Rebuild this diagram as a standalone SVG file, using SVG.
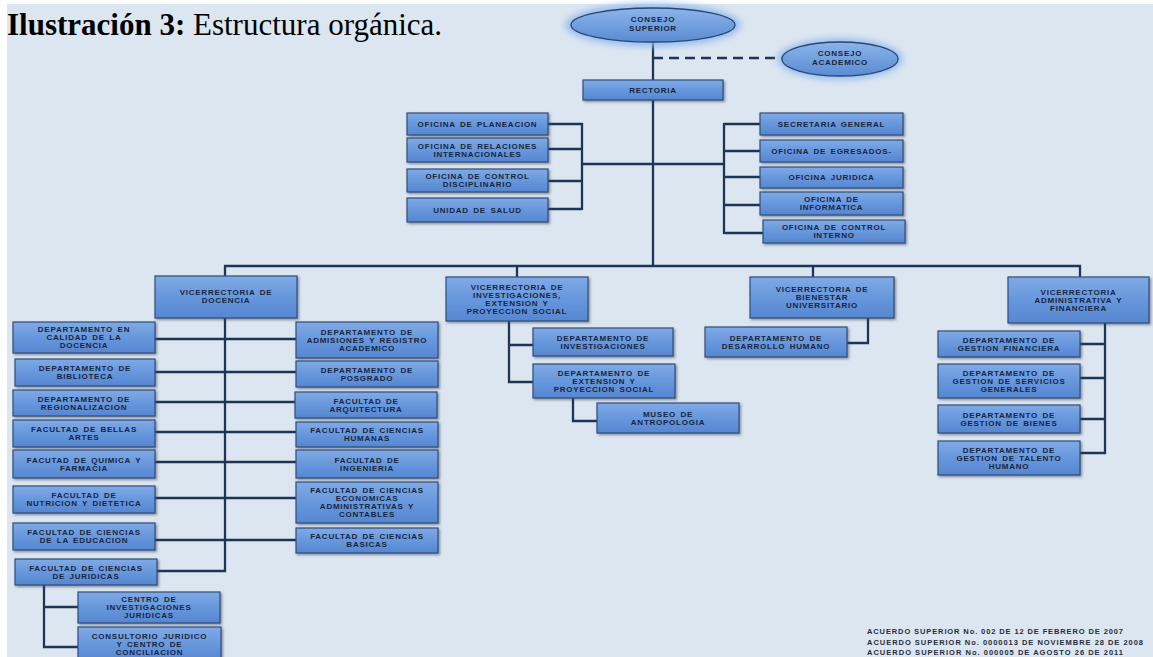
<svg xmlns="http://www.w3.org/2000/svg" width="1153" height="657" viewBox="0 0 1153 657">
<defs>
<style>
.bx{fill:url(#gb);stroke:#2f4d78;stroke-width:1.2;filter:url(#sh)}
.el{fill:url(#ge);stroke:#2a4670;stroke-width:1.3}
.t{font-family:"Liberation Sans",Arial,sans-serif;font-weight:bold;font-size:8px;letter-spacing:0.75px;word-spacing:1.5px;fill:#17263f;text-anchor:middle}
.ln{fill:none;stroke:#1e3556;stroke-width:2.3}
.ds{fill:none;stroke:#1e3556;stroke-width:2.3;stroke-dasharray:10 6}
.ac{font-family:"Liberation Sans",Arial,sans-serif;font-weight:bold;font-size:7.5px;fill:#252d3a}
</style>
<linearGradient id="gb" x1="0" y1="0" x2="0" y2="1">
<stop offset="0" stop-color="#80aae6"/>
<stop offset="0.5" stop-color="#6797dc"/>
<stop offset="1" stop-color="#5686d0"/>
</linearGradient>
<linearGradient id="ge" x1="0" y1="0" x2="0" y2="1">
<stop offset="0" stop-color="#8cb4ea"/>
<stop offset="1" stop-color="#5a8bd2"/>
</linearGradient>
<filter id="sh" x="-10%" y="-20%" width="125%" height="150%">
<feDropShadow dx="1.5" dy="1.5" stdDeviation="1" flood-color="#3a4a60" flood-opacity="0.55"/>
</filter>
<filter id="gl" x="-30%" y="-60%" width="160%" height="220%">
<feGaussianBlur stdDeviation="3"/>
</filter>
</defs>
<rect x="0" y="0" width="1153" height="657" fill="#ffffff"/>
<rect x="7" y="4" width="1146" height="653" fill="#dce6f1"/>
<text x="7" y="35" font-family="'Liberation Serif','Times New Roman',serif" font-size="31" fill="#000"><tspan font-weight="bold">Ilustración 3:</tspan> Estructura orgánica.</text>

<g id="connectors">
<path class="ln" d="M653 42V266"/>
<path class="ds" d="M653 58H782"/>
<path class="ln" d="M548 124H582M548 149H582M548 181H582M548 209H582M582 123V210M582 164H724"/>
<path class="ln" d="M724 123V234M724 124H760M724 151H760M724 177H760M724 205H760M724 233H763"/>
<path class="ln" d="M225 277V266H1080V277M517 266V277M813 266V277"/>
<path class="ln" d="M225 318V571H157"/>
<path class="ln" d="M155 339H296M155 372H296M155 402H296M155 432H296M155 462H296M155 498H296M155 540H296"/>
<path class="ln" d="M44 585V647H78M44 607H78"/>
<path class="ln" d="M509 321V382H533M509 345H533"/>
<path class="ln" d="M573 398V421H597"/>
<path class="ln" d="M868 318V343H847"/>
<path class="ln" d="M1105 323V453H1080M1080 344H1105M1080 378H1105M1080 419H1105"/>
</g>

<g id="consejo-superior">
<ellipse cx="653" cy="25" rx="88" ry="22" fill="#8fb8ee" opacity="0.85" filter="url(#gl)"/>
<ellipse class="el" cx="653" cy="25" rx="82" ry="17"/>
<text class="t"><tspan x="653" y="21.7">CONSEJO</tspan><tspan x="653" y="30.5">SUPERIOR</tspan></text>
</g>
<g id="consejo-academico">
<ellipse cx="840" cy="59" rx="63" ry="21" fill="#8fb8ee" opacity="0.85" filter="url(#gl)"/>
<ellipse class="el" cx="840" cy="59" rx="58" ry="17"/>
<text class="t"><tspan x="840" y="55.7">CONSEJO</tspan><tspan x="840" y="64.7">ACADEMICO</tspan></text>
</g>
<g id="rectoria">
<rect class="bx" x="583" y="80" width="140" height="20"/>
<text class="t"><tspan x="653" y="92.7">RECTORIA</tspan></text>
</g>

<g id="planeacion"><rect class="bx" x="407" y="113" width="141" height="22"/>
<text class="t"><tspan x="477.5" y="126.7">OFICINA DE PLANEACION</tspan></text></g>
<g id="relaciones"><rect class="bx" x="407" y="138" width="141" height="24"/>
<text class="t"><tspan x="477.5" y="148.7">OFICINA DE RELACIONES</tspan><tspan x="477.5" y="156.7">INTERNACIONALES</tspan></text></g>
<g id="control-disciplinario"><rect class="bx" x="407" y="169" width="141" height="23"/>
<text class="t"><tspan x="477.5" y="179.2">OFICINA DE CONTROL</tspan><tspan x="477.5" y="187.2">DISCIPLINARIO</tspan></text></g>
<g id="salud"><rect class="bx" x="407" y="198" width="141" height="24"/>
<text class="t"><tspan x="477.5" y="212.7">UNIDAD DE SALUD</tspan></text></g>

<g id="secretaria"><rect class="bx" x="760" y="113" width="143" height="22"/>
<text class="t"><tspan x="831.5" y="126.7">SECRETARIA GENERAL</tspan></text></g>
<g id="egresados"><rect class="bx" x="760" y="140" width="143" height="22"/>
<text class="t"><tspan x="831.5" y="153.7">OFICINA DE EGRESADOS-</tspan></text></g>
<g id="juridica"><rect class="bx" x="760" y="167" width="143" height="21"/>
<text class="t"><tspan x="831.5" y="180.2">OFICINA JURIDICA</tspan></text></g>
<g id="informatica"><rect class="bx" x="760" y="192" width="143" height="23"/>
<text class="t"><tspan x="831.5" y="202.2">OFICINA DE</tspan><tspan x="831.5" y="210.2">INFORMATICA</tspan></text></g>
<g id="control-interno"><rect class="bx" x="763" y="220" width="142" height="23"/>
<text class="t"><tspan x="834" y="230.2">OFICINA DE CONTROL</tspan><tspan x="834" y="238.2">INTERNO</tspan></text></g>

<g id="vr-docencia"><rect class="bx" x="155" y="276" width="142" height="42"/>
<text class="t"><tspan x="226" y="294.5">VICERRECTORIA DE</tspan><tspan x="226" y="302.5">DOCENCIA</tspan></text></g>
<g id="vr-investigaciones"><rect class="bx" x="446" y="277" width="142" height="44"/>
<text class="t"><tspan x="517" y="289.7">VICERRECTORIA DE</tspan><tspan x="517" y="297.7">INVESTIGACIONES,</tspan><tspan x="517" y="305.7">EXTENSION Y</tspan><tspan x="517" y="313.7">PROYECCION SOCIAL</tspan></text></g>
<g id="vr-bienestar"><rect class="bx" x="750" y="277" width="144" height="41"/>
<text class="t"><tspan x="822" y="292.2">VICERRECTORIA DE</tspan><tspan x="822" y="300.2">BIENESTAR</tspan><tspan x="822" y="308.2">UNIVERSITARIO</tspan></text></g>
<g id="vr-administrativa"><rect class="bx" x="1008" y="277" width="141" height="46"/>
<text class="t"><tspan x="1078.5" y="294.7">VICERRECTORIA</tspan><tspan x="1078.5" y="302.7">ADMINISTRATIVA Y</tspan><tspan x="1078.5" y="310.7">FINANCIERA</tspan></text></g>

<g id="calidad"><rect class="bx" x="13" y="322" width="142" height="31"/>
<text class="t"><tspan x="84" y="332.2">DEPARTAMENTO EN</tspan><tspan x="84" y="340.2">CALIDAD DE LA</tspan><tspan x="84" y="348.2">DOCENCIA</tspan></text></g>
<g id="biblioteca"><rect class="bx" x="15" y="359" width="140" height="27"/>
<text class="t"><tspan x="85" y="371.2">DEPARTAMENTO DE</tspan><tspan x="85" y="379.2">BIBLIOTECA</tspan></text></g>
<g id="regionalizacion"><rect class="bx" x="13" y="390" width="142" height="26"/>
<text class="t"><tspan x="84" y="401.7">DEPARTAMENTO DE</tspan><tspan x="84" y="409.7">REGIONALIZACION</tspan></text></g>
<g id="bellas-artes"><rect class="bx" x="13" y="420" width="142" height="27"/>
<text class="t"><tspan x="84" y="432.2">FACULTAD DE BELLAS</tspan><tspan x="84" y="440.2">ARTES</tspan></text></g>
<g id="quimica"><rect class="bx" x="13" y="450" width="142" height="28"/>
<text class="t"><tspan x="84" y="462.7">FACUTAD DE QUIMICA Y</tspan><tspan x="84" y="470.7">FARMACIA</tspan></text></g>
<g id="nutricion"><rect class="bx" x="13" y="486" width="142" height="27"/>
<text class="t"><tspan x="84" y="498.2">FACULTAD DE</tspan><tspan x="84" y="506.2">NUTRICION Y DIETETICA</tspan></text></g>
<g id="educacion"><rect class="bx" x="13" y="523" width="142" height="27"/>
<text class="t"><tspan x="84" y="535.2">FACULTAD DE CIENCIAS</tspan><tspan x="84" y="543.2">DE LA EDUCACION</tspan></text></g>
<g id="juridicas"><rect class="bx" x="15" y="559" width="142" height="26"/>
<text class="t"><tspan x="86" y="570.7">FACULTAD DE CIENCIAS</tspan><tspan x="86" y="578.7">DE JURIDICAS</tspan></text></g>
<g id="centro-investigaciones"><rect class="bx" x="78" y="592" width="142" height="31"/>
<text class="t"><tspan x="149" y="602.2">CENTRO DE</tspan><tspan x="149" y="610.2">INVESTIGACIONES</tspan><tspan x="149" y="618.2">JURIDICAS</tspan></text></g>
<g id="consultorio"><rect class="bx" x="78" y="627" width="143" height="35"/>
<text class="t"><tspan x="149.5" y="638.7">CONSULTORIO JURIDICO</tspan><tspan x="149.5" y="646.7">Y CENTRO DE</tspan><tspan x="149.5" y="654.7">CONCILIACION</tspan></text></g>

<g id="admisiones"><rect class="bx" x="296" y="322" width="142" height="36"/>
<text class="t"><tspan x="367" y="334.7">DEPARTAMENTO DE</tspan><tspan x="367" y="342.7">ADMISIONES Y REGISTRO</tspan><tspan x="367" y="350.7">ACADEMICO</tspan></text></g>
<g id="posgrado"><rect class="bx" x="296" y="361" width="142" height="26"/>
<text class="t"><tspan x="367" y="372.7">DEPARTAMENTO DE</tspan><tspan x="367" y="380.7">POSGRADO</tspan></text></g>
<g id="arquitectura"><rect class="bx" x="295" y="392" width="142" height="26"/>
<text class="t"><tspan x="366" y="403.7">FACULTAD DE</tspan><tspan x="366" y="411.7">ARQUITECTURA</tspan></text></g>
<g id="humanas"><rect class="bx" x="296" y="422" width="142" height="25"/>
<text class="t"><tspan x="367" y="433.2">FACULTAD DE CIENCIAS</tspan><tspan x="367" y="441.2">HUMANAS</tspan></text></g>
<g id="ingenieria"><rect class="bx" x="296" y="450" width="142" height="28"/>
<text class="t"><tspan x="367" y="462.7">FACULTAD DE</tspan><tspan x="367" y="470.7">INGENIERIA</tspan></text></g>
<g id="economicas"><rect class="bx" x="296" y="482" width="142" height="41"/>
<text class="t"><tspan x="367" y="493.2">FACULTAD DE CIENCIAS</tspan><tspan x="367" y="501.2">ECONOMICAS</tspan><tspan x="367" y="509.2">ADMINISTRATIVAS Y</tspan><tspan x="367" y="517.2">CONTABLES</tspan></text></g>
<g id="basicas"><rect class="bx" x="296" y="528" width="142" height="25"/>
<text class="t"><tspan x="367" y="539.2">FACULTAD DE CIENCIAS</tspan><tspan x="367" y="547.2">BASICAS</tspan></text></g>

<g id="dep-investigaciones"><rect class="bx" x="533" y="328" width="140" height="28"/>
<text class="t"><tspan x="603" y="340.7">DEPARTAMENTO DE</tspan><tspan x="603" y="348.7">INVESTIGACIONES</tspan></text></g>
<g id="dep-extension"><rect class="bx" x="533" y="364" width="142" height="34"/>
<text class="t"><tspan x="604" y="375.7">DEPARTAMENTO DE</tspan><tspan x="604" y="383.7">EXTENSION Y</tspan><tspan x="604" y="391.7">PROYECCION SOCIAL</tspan></text></g>
<g id="museo"><rect class="bx" x="597" y="403" width="142" height="30"/>
<text class="t"><tspan x="668" y="416.7">MUSEO DE</tspan><tspan x="668" y="424.7">ANTROPOLOGIA</tspan></text></g>

<g id="desarrollo-humano"><rect class="bx" x="705" y="327" width="142" height="30"/>
<text class="t"><tspan x="776" y="340.7">DEPARTAMENTO DE</tspan><tspan x="776" y="348.7">DESARROLLO HUMANO</tspan></text></g>

<g id="gestion-financiera"><rect class="bx" x="938" y="331" width="142" height="26"/>
<text class="t"><tspan x="1009" y="342.7">DEPARTAMENTO DE</tspan><tspan x="1009" y="350.7">GESTION FINANCIERA</tspan></text></g>
<g id="servicios-generales"><rect class="bx" x="938" y="364" width="142" height="34"/>
<text class="t"><tspan x="1009" y="375.7">DEPARTAMENTO DE</tspan><tspan x="1009" y="383.7">GESTION DE SERVICIOS</tspan><tspan x="1009" y="391.7">GENERALES</tspan></text></g>
<g id="gestion-bienes"><rect class="bx" x="938" y="405" width="142" height="28"/>
<text class="t"><tspan x="1009" y="417.7">DEPARTAMENTO DE</tspan><tspan x="1009" y="425.7">GESTION DE BIENES</tspan></text></g>
<g id="talento-humano"><rect class="bx" x="938" y="441" width="142" height="34"/>
<text class="t"><tspan x="1009" y="452.7">DEPARTAMENTO DE</tspan><tspan x="1009" y="460.7">GESTION DE TALENTO</tspan><tspan x="1009" y="468.7">HUMANO</tspan></text></g>

<g id="acuerdos">
<text class="ac" x="867" y="634" textLength="256" lengthAdjust="spacing">ACUERDO SUPERIOR No. 002 DE 12 DE FEBRERO DE 2007</text>
<text class="ac" x="867" y="644.5" textLength="276" lengthAdjust="spacing">ACUERDO SUPERIOR No. 0000013 DE NOVIEMBRE 28 DE 2008</text>
<text class="ac" x="867" y="655" textLength="256" lengthAdjust="spacing">ACUERDO SUPERIOR No. 000005 DE AGOSTO 26 DE 2011</text>
</g>
</svg>
